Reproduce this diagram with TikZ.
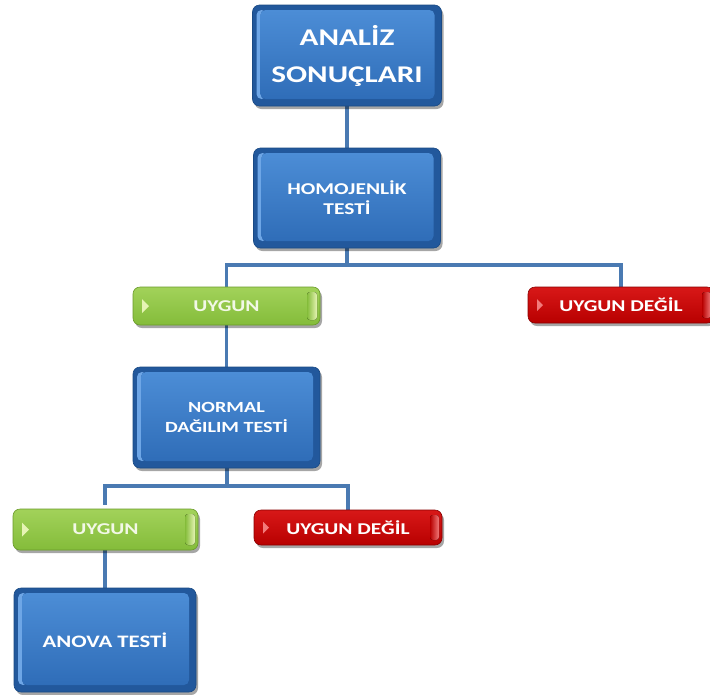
\documentclass[tikz,border=0pt]{standalone}
\usepackage{fontspec}
\setmainfont{Carlito}[FakeStretch=1.3]
\usetikzlibrary{shadows}
\definecolor{bluelight}{HTML}{4C8DD6}
\definecolor{bluemid}{HTML}{2F6DB8}
\definecolor{bluedark}{HTML}{22589C}
\definecolor{blueborder}{HTML}{1A4A85}
\definecolor{bluehl}{HTML}{6EA6E6}
\definecolor{greentop}{HTML}{A2D25A}
\definecolor{greenbot}{HTML}{84BC3A}
\definecolor{greenborder}{HTML}{6A9A2A}
\definecolor{greenlight}{HTML}{E6F4B4}
\definecolor{greentext}{HTML}{F2F8E6}
\definecolor{redtop}{HTML}{D81818}
\definecolor{redbot}{HTML}{B80000}
\definecolor{redborder}{HTML}{8A0000}
\definecolor{redlight}{HTML}{F27A7A}
\definecolor{conn}{HTML}{4A7AB2}
\begin{document}
\begin{tikzpicture}[x=1pt,y=-1pt,
  base/.style={rounded corners=7pt, inner sep=0pt, align=center, font=\bfseries,
    drop shadow={shadow xshift=2pt, shadow yshift=-3pt, opacity=0.35, fill=black}},
  bluebox/.style={base, text=white, fill=bluedark, draw=blueborder, line width=0.6pt,
    path picture={
      \fill[rounded corners=5pt, bluehl]
        ([shift={(4pt,-5pt)}]path picture bounding box.north west) rectangle
        ([shift={(14pt,7pt)}]path picture bounding box.south west);
      \fill[rounded corners=5pt, top color=bluelight, bottom color=bluemid]
        ([shift={(8pt,-5pt)}]path picture bounding box.north west) rectangle
        ([shift={(-7pt,7pt)}]path picture bounding box.south east);}},
  greenbox/.style={base, text=greentext, top color=greentop, bottom color=greenbot,
    draw=greenborder, line width=0.6pt, minimum height=38pt,
    path picture={
      \fill[greenlight, sharp corners] ([shift={(9pt,7pt)}]path picture bounding box.west) --
        ([shift={(16pt,0pt)}]path picture bounding box.west) --
        ([shift={(9pt,-7pt)}]path picture bounding box.west) -- cycle;
      \fill[rounded corners=3pt, left color=greenbot, right color=greenlight]
        ([shift={(-13pt,-5pt)}]path picture bounding box.north east) rectangle
        ([shift={(-3pt,5pt)}]path picture bounding box.south east);}},
  redbox/.style={base, text=white, top color=redtop, bottom color=redbot,
    draw=redborder, line width=0.6pt, minimum height=36pt,
    path picture={
      \fill[redlight, sharp corners] ([shift={(9pt,6pt)}]path picture bounding box.west) --
        ([shift={(15pt,0pt)}]path picture bounding box.west) --
        ([shift={(9pt,-6pt)}]path picture bounding box.west) -- cycle;
      \fill[rounded corners=3pt, left color=redbot, right color=redlight]
        ([shift={(-12pt,-5pt)}]path picture bounding box.north east) rectangle
        ([shift={(-3pt,5pt)}]path picture bounding box.south east);}},
  connector/.style={draw=conn, line width=3.5pt}
]
\useasboundingbox (0,0) rectangle (710,694);
\fill[white] (0,0) rectangle (710,694);

% connectors first (behind boxes)
\coordinate (b1) at (347,265);
\coordinate (b2) at (227,486);
\coordinate (c1) at (347,105);
\coordinate (c2) at (347,150);
\coordinate (c3) at (226.5,240);
\coordinate (c4) at (621,290);
\coordinate (c5) at (226.5,320);
\coordinate (c6) at (226.5,370);
\coordinate (c7) at (105,505);
\coordinate (c8) at (348,512);
\coordinate (c9) at (105,545);
\coordinate (c10) at (105,592);
\draw[connector] (c1) -- (c2);
\draw[connector] (b1 |- c3) -- (b1);
\draw[connector] (b1) -| (c5);
\draw[connector] (b1) -| (c4);
\draw[connector] (c5) -- (c6);
\draw[connector] (b2 |- c6) -- (b2);
\draw[connector] (b2) -| (c7);
\draw[connector] (b2) -| (c8);
\draw[connector] (c9) -- (c10);

\node[bluebox, minimum width=189pt, minimum height=101pt, font=\bfseries\fontsize{24}{37}\selectfont] (a1) at (347,55.5) {ANALİZ\\SONUÇLARI};
\node[bluebox, minimum width=187pt, minimum height=100pt, font=\bfseries\fontsize{16.5}{20}\selectfont] (a2) at (347,198) {HOMOJENLİK\\TESTİ};
\node[greenbox, minimum width=187pt, font=\bfseries\fontsize{16.5}{18}\selectfont] (g1) at (226.5,306) {UYGUN};
\node[redbox, minimum width=186pt, font=\bfseries\fontsize{16.5}{18}\selectfont] (r1) at (621,305) {UYGUN DEĞİL};
\node[bluebox, minimum width=187pt, minimum height=101pt, font=\bfseries\fontsize{15.5}{20}\selectfont] (a3) at (226.5,417.5) {NORMAL\\DAĞILIM TESTİ};
\node[greenbox, minimum width=185pt, minimum height=41pt, font=\bfseries\fontsize{16.5}{18}\selectfont] (g2) at (105.5,529.5) {UYGUN};
\node[redbox, minimum width=188pt, minimum height=35pt, font=\bfseries\fontsize{16.5}{18}\selectfont] (r2) at (348,527.5) {UYGUN DEĞİL};
\node[bluebox, minimum width=182pt, minimum height=104pt, font=\bfseries\fontsize{17.5}{20}\selectfont] (a4) at (105,640) {ANOVA TESTİ};
\end{tikzpicture}
\end{document}
